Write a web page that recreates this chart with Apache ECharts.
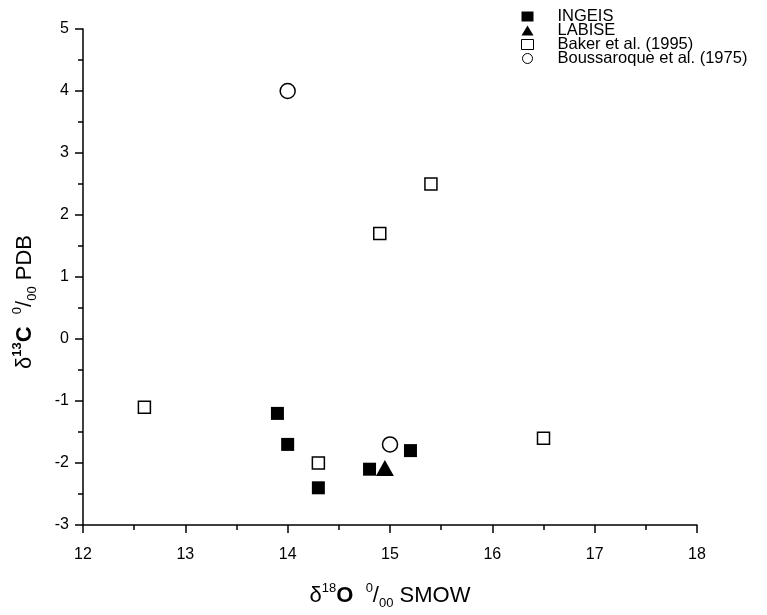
<!DOCTYPE html>
<html><head><meta charset="utf-8">
<script src="https://cdn.jsdelivr.net/npm/echarts@6/dist/echarts.min.js"></script>
<style>html,body{margin:0;padding:0;background:#fff}#c{width:767px;height:615px}</style>
</head><body><div id="c"></div>
<script>
const seriesNames = ['INGEIS', 'LABISE', 'Baker et al. (1995)', 'Boussaroque et al. (1975)'];
const ingeis = [[13.9, -1.2], [14.0, -1.7], [14.3, -2.4], [14.8, -2.1], [15.2, -1.8]];
const labise = [[14.95, -2.08]];
const baker = [[12.6, -1.1], [14.3, -2.0], [14.9, 1.7], [15.4, 2.5], [16.5, -1.6]];
const boussaroque = [[14.0, 4.0], [15.0, -1.7]];
const xTicks = [12, 18, 1];
const yTicks = [-3, 5, 1];

const F = 'Liberation Sans, Arial, sans-serif';
const chart = echarts.init(document.getElementById('c'));
const base = {fontFamily: F, color: '#000', lineHeight: 28};
function richSet(size) {
  return {
    n: Object.assign({}, base, {fontSize: size, verticalAlign: 'middle'}),
    b: Object.assign({}, base, {fontSize: size, fontWeight: 'bold', verticalAlign: 'middle'}),
    supb: Object.assign({}, base, {fontSize: 13, fontWeight: 'bold', verticalAlign: 'top', lineHeight: 14}),
    sup: Object.assign({}, base, {fontSize: 13, verticalAlign: 'top', lineHeight: 14}),
    sub: Object.assign({}, base, {fontSize: 13, verticalAlign: 'bottom', lineHeight: 12})
  };
}
chart.setOption({
  animation: false,
  backgroundColor: '#fff',
  grid: {left: 83, right: 70, top: 29, bottom: 86, containLabel: false},
  legend: {
    orient: 'vertical', left: 516, top: 3, itemGap: -3, itemWidth: 12, itemHeight: 10,
    textStyle: {fontFamily: F, fontSize: 16.5, lineHeight: 14, color: '#000', padding: [0, 0, 0, 19]},
    data: [
      {name: seriesNames[0], icon: 'rect', itemStyle: {color: '#000', opacity: 1}},
      {name: seriesNames[1], icon: 'triangle', itemStyle: {color: '#000', opacity: 1}},
      {name: seriesNames[2], icon: 'rect', itemStyle: {color: '#fff', borderColor: '#000', borderWidth: 1, opacity: 1}},
      {name: seriesNames[3], icon: 'circle', itemStyle: {color: '#fff', borderColor: '#000', borderWidth: 1, opacity: 1}}
    ]
  },
  xAxis: {
    type: 'value', min: xTicks[0], max: xTicks[1], interval: xTicks[2],
    splitLine: {show: false},
    axisLine: {onZero: false, lineStyle: {color: '#000', width: 1.5}},
    axisTick: {length: 8, lineStyle: {color: '#000', width: 1.5}},
    minorTick: {show: true, splitNumber: 2, length: 5, lineStyle: {color: '#000', width: 1.5}},
    axisLabel: {fontFamily: F, fontSize: 16, color: '#000', margin: 22},
    name: '{n|δ}{sup|18}{b|O}{n|  }{sup|0}{n|/}{sub|00}{n| SMOW}',
    nameLocation: 'middle', nameGap: 57,
    nameTextStyle: {rich: richSet(22)}
  },
  yAxis: {
    type: 'value', min: yTicks[0], max: yTicks[1], interval: yTicks[2],
    splitLine: {show: false},
    axisLine: {onZero: false, lineStyle: {color: '#000', width: 1.5}},
    axisTick: {length: 8, lineStyle: {color: '#000', width: 1.5}},
    minorTick: {show: true, splitNumber: 2, length: 5, lineStyle: {color: '#000', width: 1.5}},
    axisLabel: {fontFamily: F, fontSize: 16, color: '#000', margin: 14},
    name: '{n|δ}{supb|13}{b|C}{n|  }{sup|0}{n|/}{sub|00}{n| PDB}',
    nameLocation: 'middle', nameGap: 44, nameRotate: 90,
    nameTextStyle: {rich: richSet(22), padding: [0, 50, 0, 0]}
  },
  series: [
    {name: seriesNames[0], type: 'scatter', data: ingeis, symbol: 'rect', symbolSize: 13,
     itemStyle: {color: '#000', opacity: 1}, z: 3},
    {name: seriesNames[1], type: 'scatter', data: labise, symbol: 'triangle', symbolSize: [18, 16],
     itemStyle: {color: '#000', opacity: 1}, z: 4},
    {name: seriesNames[2], type: 'scatter', data: baker, symbol: 'rect', symbolSize: 12,
     itemStyle: {color: '#fff', borderColor: '#000', borderWidth: 1.5, opacity: 1}, z: 2},
    {name: seriesNames[3], type: 'scatter', data: boussaroque, symbol: 'circle', symbolSize: 15,
     itemStyle: {color: '#fff', borderColor: '#000', borderWidth: 1.5, opacity: 1}, z: 2}
  ]
});
</script></body></html>
